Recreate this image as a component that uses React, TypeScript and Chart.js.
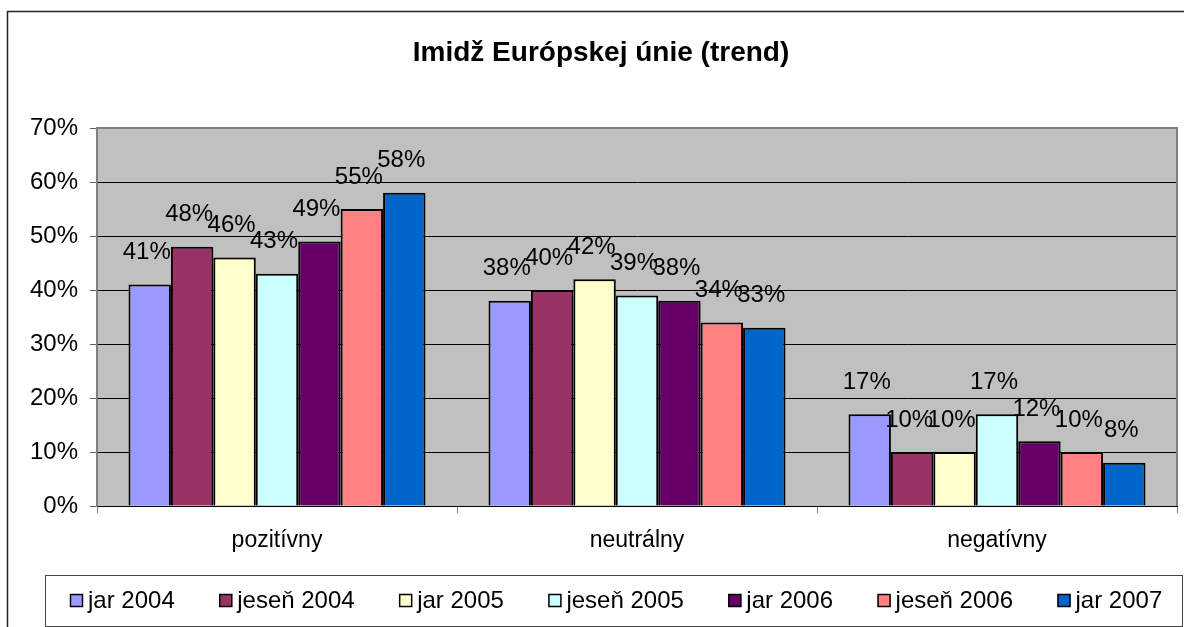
import React, { useEffect, useRef } from "react";
import { Chart, registerables } from "chart.js";

Chart.register(...registerables);

const TITLE = "Imidž Európskej únie (trend)";
const categories = ["pozitívny", "neutrálny", "negatívny"];
const seriesNames = ["jar 2004", "jeseň 2004", "jar 2005", "jeseň 2005", "jar 2006", "jeseň 2006", "jar 2007"];
const jar2004 = [41, 38, 17];
const jesen2004 = [48, 40, 10];
const jar2005 = [46, 42, 10];
const jesen2005 = [43, 39, 17];
const jar2006 = [49, 38, 12];
const jesen2006 = [55, 34, 10];
const jar2007 = [58, 33, 8];
const seriesValues = [jar2004, jesen2004, jar2005, jesen2005, jar2006, jesen2006, jar2007];
const seriesColors = ["#9999FF", "#993366", "#FFFFCC", "#CCFFFF", "#660066", "#FF8080", "#0066CC"];
const yMax = 70;
const yStep = 10;

const FONT = "'Liberation Sans', Arial, sans-serif";

const decorPlugin = {
  id: "decor",
  beforeDraw(chart: any) {
    const { ctx, chartArea } = chart;
    ctx.save();
    ctx.fillStyle = "#FFFFFF";
    ctx.fillRect(0, 0, chart.width, chart.height);
    ctx.strokeStyle = "#222222";
    ctx.lineWidth = 1.5;
    ctx.strokeRect(7.5, 11.5, chart.width + 20, chart.height + 20);
    ctx.fillStyle = "#C0C0C0";
    ctx.fillRect(chartArea.left, chartArea.top, chartArea.right - chartArea.left, chartArea.bottom - chartArea.top);
    ctx.fillStyle = "#000";
    ctx.font = `bold 28px ${FONT}`;
    ctx.textAlign = "center";
    ctx.textBaseline = "middle";
    ctx.fillText(TITLE, 601, 53);
    ctx.restore();
  },
  afterDatasetsDraw(chart: any) {
    const { ctx, chartArea } = chart;
    ctx.save();
    ctx.strokeStyle = "#808080";
    ctx.lineWidth = 2;
    ctx.beginPath();
    ctx.moveTo(chartArea.left, chartArea.top);
    ctx.lineTo(chartArea.right, chartArea.top);
    ctx.lineTo(chartArea.right, chartArea.bottom);
    ctx.stroke();
    ctx.fillStyle = "#000";
    ctx.font = `24px ${FONT}`;
    ctx.textAlign = "center";
    ctx.textBaseline = "middle";
    chart.data.datasets.forEach((ds: any, di: number) => {
      const meta = chart.getDatasetMeta(di);
      meta.data.forEach((el: any, i: number) => {
        ctx.fillText(ds.data[i] + "%", el.x - 3, el.y - 32);
      });
    });
    ctx.restore();
  },
  afterDraw(chart: any) {
    const { ctx } = chart;
    ctx.save();
    ctx.strokeStyle = "#444444";
    ctx.lineWidth = 1;
    ctx.strokeRect(45.5, 575.5, 1137, 51);
    ctx.font = `24px ${FONT}`;
    ctx.textBaseline = "middle";
    ctx.textAlign = "left";
    let x = 70;
    chart.data.datasets.forEach((ds: any) => {
      ctx.fillStyle = ds.backgroundColor;
      ctx.fillRect(x, 594, 13, 13);
      ctx.strokeStyle = "#000";
      ctx.lineWidth = 1.5;
      ctx.strokeRect(x + 0.5, 594.5, 12, 12);
      ctx.fillStyle = "#000";
      ctx.fillText(ds.label, x + 18, 601);
      x += 18 + ctx.measureText(ds.label).width + 44.5;
    });
    ctx.restore();
  },
};

export default function App() {
  const ref = useRef<HTMLCanvasElement | null>(null);
  useEffect(() => {
    if (!ref.current) return;
    const chart = new Chart(ref.current, {
      type: "bar",
      data: {
        labels: categories,
        datasets: seriesNames.map((name, i) => ({
          label: name,
          data: seriesValues[i],
          backgroundColor: seriesColors[i],
          borderColor: "#000000",
          borderWidth: 2,
          categoryPercentage: 0.825,
          barPercentage: 1.0,
        })),
      },
      options: {
        responsive: false,
        animation: false,
        layout: { padding: { top: 128, right: 7, left: 0, bottom: 0 } },
        plugins: {
          legend: { display: false },
          title: { display: false },
          tooltip: { enabled: false },
        },
        scales: {
          x: {
            grid: {
              offset: true,
              drawOnChartArea: false,
              tickLength: 7,
              color: "#808080",
            },
            border: { color: "#000000", width: 1 },
            ticks: {
              color: "#000",
              font: { family: FONT, size: 23 },
              padding: 14,
            },
            afterFit(scale: any) {
              scale.height = 121;
            },
          },
          y: {
            min: 0,
            max: yMax,
            ticks: {
              stepSize: yStep,
              color: "#000",
              font: { family: FONT, size: 24 },
              padding: 12,
              callback: (v: any) => v + "%",
            },
            grid: {
              color: "#000000",
              lineWidth: 1,
              tickLength: 7,
              tickColor: "#606060",
            },
            border: { color: "#808080", width: 2 },
            afterFit(scale: any) {
              scale.width = 97;
            },
          },
        },
      },
      plugins: [decorPlugin],
    });
    return () => chart.destroy();
  }, []);
  return (
    <div style={{ position: "fixed", left: 0, top: 0, width: 1184, height: 627, background: "#fff" }}>
      <canvas ref={ref} width={1184} height={627} style={{ display: "block" }} />
    </div>
  );
}
